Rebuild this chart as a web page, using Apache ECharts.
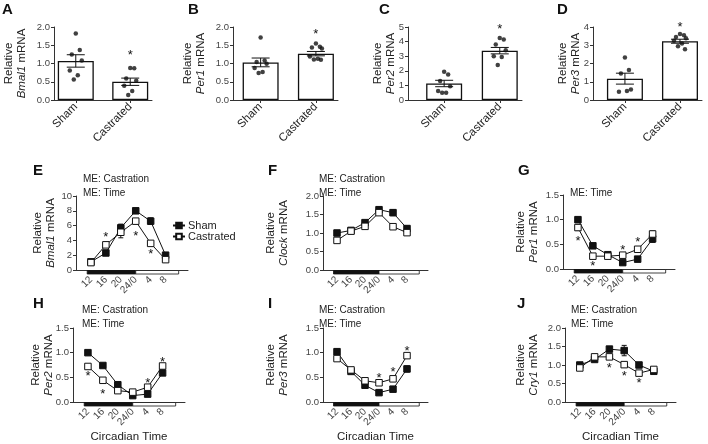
<!DOCTYPE html>
<html>
<head>
<meta charset="utf-8">
<script src="https://cdn.jsdelivr.net/npm/echarts@6/dist/echarts.min.js"></script>
<style>
  html, body { margin: 0; background: #fff; }
  #chart { width: 708px; height: 444px; }
</style>
</head>
<body>
<div id="chart"></div>
<script>
const FONT = 'Arial, "Liberation Sans", sans-serif'
const INK = '#111'
const AXIS = '#333'

const groups = ['Sham', 'Castrated']

// A-D: single time point, mean / sem and individual animals
const bmal1Mean = [1.07, 0.50]
const bmal1Sem = [0.17, 0.10]
const bmal1ShamPts = [1.82, 1.37, 1.25, 1.08, 0.81, 0.68, 0.56]
const bmal1CastPts = [0.88, 0.87, 0.59, 0.53, 0.39, 0.25, 0.14]

const per1Mean = [1.03, 1.27]
const per1Sem = [0.12, 0.06]
const per1ShamPts = [1.71, 1.08, 1.04, 0.99, 0.88, 0.77, 0.74]
const per1CastPts = [1.55, 1.46, 1.44, 1.41, 1.19, 1.13, 1.11, 1.10]

const per2Mean = [1.13, 3.38]
const per2Sem = [0.22, 0.22]
const per2ShamPts = [1.93, 1.75, 1.30, 0.95, 0.62, 0.50, 0.50]
const per2CastPts = [4.25, 4.15, 3.80, 3.40, 3.00, 2.95, 2.40]

const per3Mean = [1.17, 3.22]
const per3Sem = [0.30, 0.11]
const per3ShamPts = [2.33, 1.64, 1.45, 0.58, 0.45, 0.50]
const per3CastPts = [3.62, 3.55, 3.45, 3.38, 3.25, 3.10, 2.95, 2.78]

const barStars = [1.29, 1.87, 5.07, 4.16]

// E-J: circadian profiles
const ctHours = [12, 16, 20, 24, 28, 32]
const ctLabels = ['12', '16', '20', '24/0', '4', '8']
const lightDark = [[11, 24, 1], [24, 35.5, 0]]

const bmal1Sham = [1.1, 2.3, 5.7, 8.0, 6.6, 2.0]
const bmal1ShamErr = [0.1, 0.15, 0.5, 0.3, 0.45, 0.2]
const bmal1Cast = [1.0, 3.4, 5.1, 6.6, 3.6, 1.4]
const bmal1CastErr = [0.1, 0.2, 0.75, 0.35, 0.2, 0.15]
const bmal1Stars = [[16, 4.75], [24, 5.0], [28, 2.5]]

const clockSham = [1.0, 1.07, 1.28, 1.63, 1.55, 1.12]
const clockShamErr = [0.06, 0.04, 0.04, 0.07, 0.08, 0.07]
const clockCast = [0.8, 1.05, 1.18, 1.55, 1.17, 1.01]
const clockCastErr = [0.03, 0.04, 0.03, 0.05, 0.03, 0.03]
const clockStars = []

const per1Sham = [1.0, 0.47, 0.29, 0.13, 0.2, 0.61]
const per1ShamErr = [0.05, 0.02, 0.02, 0.02, 0.02, 0.07]
const per1Cast = [0.84, 0.26, 0.26, 0.28, 0.40, 0.71]
const per1CastErr = [0.06, 0.02, 0.03, 0.02, 0.03, 0.06]
const per1Stars = [[12, 0.61], [16, 0.115], [24, 0.43], [28, 0.59]]

const per2Sham = [1.0, 0.74, 0.35, 0.13, 0.16, 0.59]
const per2ShamErr = [0.02, 0.02, 0.02, 0.02, 0.02, 0.05]
const per2Cast = [0.72, 0.44, 0.23, 0.2, 0.3, 0.73]
const per2CastErr = [0.03, 0.02, 0.02, 0.02, 0.03, 0.05]
const per2Stars = [[12, 0.57], [16, 0.22], [28, 0.43], [32, 0.86]]

const per3Sham = [1.02, 0.62, 0.34, 0.19, 0.26, 0.67]
const per3ShamErr = [0.05, 0.04, 0.02, 0.02, 0.02, 0.06]
const per3Cast = [0.88, 0.65, 0.43, 0.39, 0.47, 0.94]
const per3CastErr = [0.03, 0.04, 0.02, 0.03, 0.03, 0.03]
const per3Stars = [[24, 0.54], [28, 0.66], [32, 1.09]]

const cry1Sham = [1.0, 1.15, 1.43, 1.39, 1.0, 0.83]
const cry1ShamErr = [0.03, 0.03, 0.07, 0.14, 0.03, 0.03]
const cry1Cast = [0.92, 1.22, 1.22, 1.01, 0.78, 0.88]
const cry1CastErr = [0.03, 0.03, 0.06, 0.03, 0.03, 0.03]
const cry1Stars = [[20, 0.99], [24, 0.78], [28, 0.58]]

// horizontal spread of the dots, px
const jitter = [0, 4, -4, 6, -6, 2, -2, 5]

const grids = []
const xAxes = []
const yAxes = []
const series = []

const nameStyle = {
  rich: {
    r: { fontSize: 11.5, fontFamily: FONT, color: '#222', lineHeight: 13 },
    g: { fontSize: 11.5, fontFamily: FONT, color: '#222', lineHeight: 13, fontStyle: 'italic' }
  }
}
const yName = gene => `{r|Relative}\n{g|${gene}}{r| mRNA}`

function errorBar (cap) {
  return function (params, api) {
    const x = api.value(0)
    const m = api.value(1)
    const e = api.value(2)
    const hi = api.coord([x, m + e])
    const lo = api.coord([x, m - e])
    const style = { stroke: INK, lineWidth: 1 }
    return {
      type: 'group',
      children: [
        { type: 'line', shape: { x1: hi[0], y1: hi[1], x2: lo[0], y2: lo[1] }, style },
        { type: 'line', shape: { x1: hi[0] - cap, y1: hi[1], x2: hi[0] + cap, y2: hi[1] }, style },
        { type: 'line', shape: { x1: lo[0] - cap, y1: lo[1], x2: lo[0] + cap, y2: lo[1] }, style }
      ]
    }
  }
}

function starMark (params, api) {
  const p = api.coord([api.value(0), api.value(1)])
  return {
    type: 'text',
    x: p[0],
    y: p[1] + 3,
    style: {
      text: '*', font: '13px ' + FONT, fill: INK,
      align: 'center', verticalAlign: 'middle', textAlign: 'center', textVerticalAlign: 'middle'
    }
  }
}

function phaseBar (params, api) {
  const s = api.coord([api.value(0), 0])
  const e = api.coord([api.value(1), 0])
  return {
    type: 'rect',
    shape: { x: s[0], y: s[1] + 0.5, width: e[0] - s[0], height: 3.5 },
    style: { fill: api.value(2) ? INK : '#fff', stroke: INK, lineWidth: 0.8 }
  }
}

function yAxisOf (idx, p) {
  return {
    gridIndex: idx,
    type: 'value',
    min: 0,
    max: p.yMax,
    interval: p.step,
    splitLine: { show: false },
    axisLine: { show: true, onZero: false, lineStyle: { color: AXIS, width: 1 } },
    axisTick: { show: true, length: 3, lineStyle: { color: AXIS } },
    axisLabel: { fontSize: 9.5, color: '#444', fontFamily: FONT, margin: 4, formatter: p.fmt },
    name: yName(p.gene),
    nameLocation: 'middle',
    nameGap: p.nameGap,
    nameMoveOverlap: false,
    nameTextStyle: nameStyle
  }
}

function barPanel (p) {
  const idx = grids.length
  grids.push({ left: p.left, top: 27, width: p.width, height: 73, containLabel: false, outerBoundsMode: 'none' })
  xAxes.push({
    gridIndex: idx,
    type: 'value',
    min: p.xMin,
    max: 1.4,
    splitLine: { show: false },
    axisLine: { show: true, onZero: false, lineStyle: { color: AXIS, width: 1 } },
    axisTick: { show: true, customValues: [0, 1], length: 3, lineStyle: { color: AXIS } },
    axisLabel: {
      customValues: [0, 1], formatter: v => groups[v],
      rotate: 45, fontSize: 11.5, color: '#222', fontFamily: FONT, margin: 5
    }
  })
  yAxes.push(yAxisOf(idx, p))
  const ax = { xAxisIndex: idx, yAxisIndex: idx }
  series.push({
    ...ax,
    type: 'bar',
    data: p.mean.map((m, k) => [k, m]),
    barWidth: 36,
    itemStyle: { color: '#fff', borderColor: INK, borderWidth: 1.3 },
    silent: true,
    z: 2
  })
  series.push({ ...ax, type: 'custom', data: p.mean.map((m, k) => [k, m, p.sem[k]]), renderItem: errorBar(9), z: 3 })
  ;[p.sham, p.cast].forEach((pts, k) => {
    series.push({
      ...ax,
      type: 'scatter',
      data: pts.map((v, j) => ({ value: [k, v], symbolOffset: [jitter[j], 0] })),
      symbolSize: 4.5,
      itemStyle: { color: INK },
      silent: true,
      z: 4
    })
  })
  series.push({ ...ax, type: 'custom', data: [[1, p.star]], renderItem: starMark, z: 5 })
}

function linePanel (p) {
  const idx = grids.length
  grids.push({ left: p.left, top: p.top, width: p.width, height: 74, containLabel: false, outerBoundsMode: 'none' })
  xAxes.push({
    gridIndex: idx,
    type: 'value',
    min: 8,
    max: 38,
    splitLine: { show: false },
    axisLine: { show: true, onZero: false, lineStyle: { color: AXIS, width: 1 } },
    axisTick: { show: false },
    axisLabel: {
      customValues: ctHours, formatter: v => ctLabels[ctHours.indexOf(v)],
      rotate: 45, fontSize: 10, color: '#444', fontFamily: FONT, margin: 8
    },
    name: p.xName || '',
    nameLocation: 'middle',
    nameGap: 29,
    nameMoveOverlap: false,
    nameTextStyle: { fontSize: 11.5, color: '#222', fontFamily: FONT }
  })
  yAxes.push(yAxisOf(idx, p))
  const ax = { xAxisIndex: idx, yAxisIndex: idx }
  series.push({ ...ax, type: 'custom', data: lightDark, renderItem: phaseBar, z: 1 })
  const lines = [
    { name: 'Sham', vals: p.sham, err: p.shamErr, fill: INK },
    { name: 'Castrated', vals: p.cast, err: p.castErr, fill: '#fff' }
  ]
  lines.forEach(l => {
    series.push({ ...ax, type: 'custom', data: ctHours.map((h, k) => [h, l.vals[k], l.err[k]]), renderItem: errorBar(2.5), z: 2 })
  })
  lines.forEach((l, k) => {
    series.push({
      ...ax,
      name: l.name,
      type: 'line',
      data: ctHours.map((h, j) => [h, l.vals[j]]),
      symbol: 'rect',
      symbolSize: 6.5,
      lineStyle: { color: INK, width: 1 },
      itemStyle: { color: l.fill, borderColor: INK, borderWidth: 1 },
      emphasis: { disabled: true },
      z: 3 + k
    })
  })
  series.push({ ...ax, type: 'custom', data: p.stars, renderItem: starMark, z: 6 })
}

const f1 = v => v.toFixed(1)
const f0 = v => String(v)

barPanel({ left: 54, width: 98, xMin: -0.4, yMax: 2, step: 0.5, fmt: f1, gene: 'Bmal1', nameGap: 26,
  mean: bmal1Mean, sem: bmal1Sem, sham: bmal1ShamPts, cast: bmal1CastPts, star: barStars[0] })
barPanel({ left: 233, width: 105, xMin: -0.5, yMax: 2, step: 0.5, fmt: f1, gene: 'Per1', nameGap: 26,
  mean: per1Mean, sem: per1Sem, sham: per1ShamPts, cast: per1CastPts, star: barStars[1] })
barPanel({ left: 408, width: 114, xMin: -0.65, yMax: 5, step: 1, fmt: f0, gene: 'Per2', nameGap: 11,
  mean: per2Mean, sem: per2Sem, sham: per2ShamPts, cast: per2CastPts, star: barStars[2] })
barPanel({ left: 593, width: 109, xMin: -0.58, yMax: 4, step: 1, fmt: f0, gene: 'Per3', nameGap: 11,
  mean: per3Mean, sem: per3Sem, sham: per3ShamPts, cast: per3CastPts, star: barStars[3] })

linePanel({ left: 76, top: 196, width: 112, yMax: 10, step: 2, fmt: f0, gene: 'Bmal1', nameGap: 19,
  sham: bmal1Sham, shamErr: bmal1ShamErr, cast: bmal1Cast, castErr: bmal1CastErr, stars: bmal1Stars })
linePanel({ left: 323, top: 196, width: 105, yMax: 2, step: 0.5, fmt: f1, gene: 'Clock', nameGap: 33,
  sham: clockSham, shamErr: clockShamErr, cast: clockCast, castErr: clockCastErr, stars: clockStars })
linePanel({ left: 563, top: 195, width: 112, yMax: 1.5, step: 0.5, fmt: f1, gene: 'Per1', nameGap: 23,
  sham: per1Sham, shamErr: per1ShamErr, cast: per1Cast, castErr: per1CastErr, stars: per1Stars })
linePanel({ left: 73, top: 328, width: 112, yMax: 1.5, step: 0.5, fmt: f1, gene: 'Per2', nameGap: 18, xName: 'Circadian Time',
  sham: per2Sham, shamErr: per2ShamErr, cast: per2Cast, castErr: per2CastErr, stars: per2Stars })
linePanel({ left: 323, top: 328, width: 105, yMax: 1.5, step: 0.5, fmt: f1, gene: 'Per3', nameGap: 33, xName: 'Circadian Time',
  sham: per3Sham, shamErr: per3ShamErr, cast: per3Cast, castErr: per3CastErr, stars: per3Stars })
linePanel({ left: 565, top: 328, width: 111, yMax: 2, step: 0.5, fmt: f1, gene: 'Cry1', nameGap: 25, xName: 'Circadian Time',
  sham: cry1Sham, shamErr: cry1ShamErr, cast: cry1Cast, castErr: cry1CastErr, stars: cry1Stars })

const letters = [
  ['A', 2, 2], ['B', 188, 2], ['C', 379, 2], ['D', 557, 2],
  ['E', 33, 163], ['F', 268, 163], ['G', 518, 163],
  ['H', 33, 296], ['I', 268, 296], ['J', 517, 296]
]
const notes = [
  ['ME: Castration', 83, 174], ['ME: Time', 83, 188],
  ['ME: Castration', 319, 174], ['ME: Time', 319, 188],
  ['ME: Time', 570, 188],
  ['ME: Castration', 82, 305], ['ME: Time', 82, 319],
  ['ME: Castration', 319, 305], ['ME: Time', 319, 319],
  ['ME: Castration', 571, 305], ['ME: Time', 571, 319]
]

const graphic = [
  ...letters.map(([t, x, y]) => ({ type: 'text', left: x, top: y, style: { text: t, font: 'bold 15px ' + FONT, fill: INK } })),
  ...notes.map(([t, x, y]) => ({ type: 'text', left: x, top: y, style: { text: t, font: '10px ' + FONT, fill: '#222' } }))
]

const chart = echarts.init(document.getElementById('chart'), null, { renderer: 'canvas' })
chart.setOption({
  animation: false,
  backgroundColor: '#fff',
  textStyle: { fontFamily: FONT },
  grid: grids,
  xAxis: xAxes,
  yAxis: yAxes,
  series,
  graphic,
  legend: {
    data: ['Sham', 'Castrated'],
    orient: 'vertical',
    left: 167,
    top: 215,
    itemWidth: 12,
    itemHeight: 7,
    itemGap: 0,
    selectedMode: false,
    textStyle: { fontSize: 11, lineHeight: 11, color: '#222', fontFamily: FONT, padding: [0, 0, 0, -2] }
  }
})
</script>
</body>
</html>
